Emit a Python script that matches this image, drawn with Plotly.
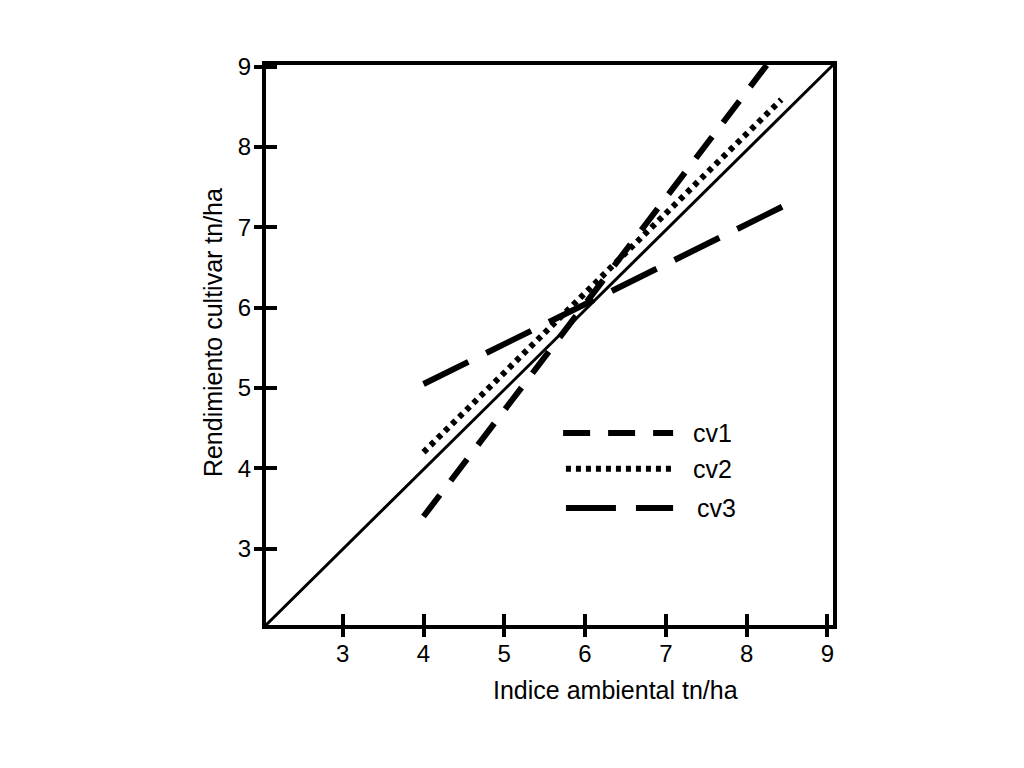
import plotly.graph_objects as go

# axis extents (tn/ha)
x_range = [2.05, 9.07]
y_range = [2.05, 9.02]
tick_vals = [3, 4, 5, 6, 7, 8, 9]

# reference 1:1 line
diag_x = [2.05, 9.07]
diag_y = [2.05, 9.02]

# cultivar regressions (end points)
cv_names = ["cv1", "cv2", "cv3"]
cv_x = [[4.0, 8.28], [4.0, 8.43], [4.0, 8.45]]
cv_y = [[3.40, 9.06], [4.20, 8.59], [5.05, 7.26]]
cv_dash = ["27px,18px", "5px,5px", "50px,20px"]

FONT = "Liberation Sans, Arial, sans-serif"
FS = 24

fig = go.Figure()
fig.add_trace(go.Scatter(x=diag_x, y=diag_y, mode="lines",
                         line=dict(color="black", width=3), showlegend=False))
for name, xs, ys, d in zip(cv_names, cv_x, cv_y, cv_dash):
    fig.add_trace(go.Scatter(x=xs, y=ys, mode="lines", name=name,
                             line=dict(color="black", width=6, dash=d),
                             showlegend=False, cliponaxis=False))
# invisible trace so the inner tick axes get drawn
fig.add_trace(go.Scatter(x=[5], y=[5], xaxis="x2", yaxis="y2",
                         mode="markers", marker=dict(opacity=0), showlegend=False,
                         hoverinfo="skip"))

# legend drawn by hand so the samples are long like the original
leg_y = [0.343, 0.279, 0.209]
leg_x0 = [0.524, 0.529, 0.529]
leg_tx = [0.750, 0.750, 0.757]
for name, d, ly, lx, tx in zip(cv_names, cv_dash, leg_y, leg_x0, leg_tx):
    fig.add_shape(type="line", xref="paper", yref="paper", x0=lx, x1=0.718,
                  y0=ly, y1=ly, line=dict(color="black", width=6, dash=d))
    fig.add_annotation(xref="paper", yref="paper", x=tx, y=ly, text=name,
                       showarrow=False, xanchor="left", yanchor="middle",
                       font=dict(family=FONT, size=25, color="black"))

# axis titles sit off-centre in the original, so they are annotations
fig.add_annotation(xref="paper", yref="paper", x=0.617, y=-0.116,
                   text="Indice ambiental tn/ha", showarrow=False,
                   xanchor="center", yanchor="middle",
                   font=dict(family=FONT, size=25, color="black"))
fig.add_annotation(xref="paper", yref="paper", x=-0.0935, y=0.523,
                   text="Rendimiento cultivar tn/ha", showarrow=False, textangle=-90,
                   xanchor="center", yanchor="middle",
                   font=dict(family=FONT, size=25, color="black"))

axis_common = dict(showgrid=False, zeroline=False, showline=True, linecolor="black",
                   linewidth=4, mirror=True, ticks="outside", ticklen=8, tickwidth=3.5,
                   tickcolor="black", tickmode="array", tickvals=tick_vals,
                   tickfont=dict(family=FONT, size=FS, color="black"))
# second set of axes only to give the ticks their inner half
inner_common = dict(showgrid=False, zeroline=False, showline=False,
                    ticks="inside", ticklen=11, tickwidth=3.5, tickcolor="black",
                    tickmode="array", tickvals=tick_vals, showticklabels=False)

fig.update_layout(
    width=1024, height=768,
    paper_bgcolor="white", plot_bgcolor="white",
    margin=dict(l=258, r=199, t=57, b=151),
    xaxis=dict(range=x_range, ticklabelstandoff=-4, **axis_common),
    yaxis=dict(range=y_range, ticklabelstandoff=-2, **axis_common),
    xaxis2=dict(inner_common, overlaying="x", anchor="y2", side="bottom",
                range=x_range, autorange=False),
    yaxis2=dict(inner_common, overlaying="y", anchor="x2", side="left",
                range=y_range, autorange=False),
    showlegend=False,
)

fig.write_html("out.html")
